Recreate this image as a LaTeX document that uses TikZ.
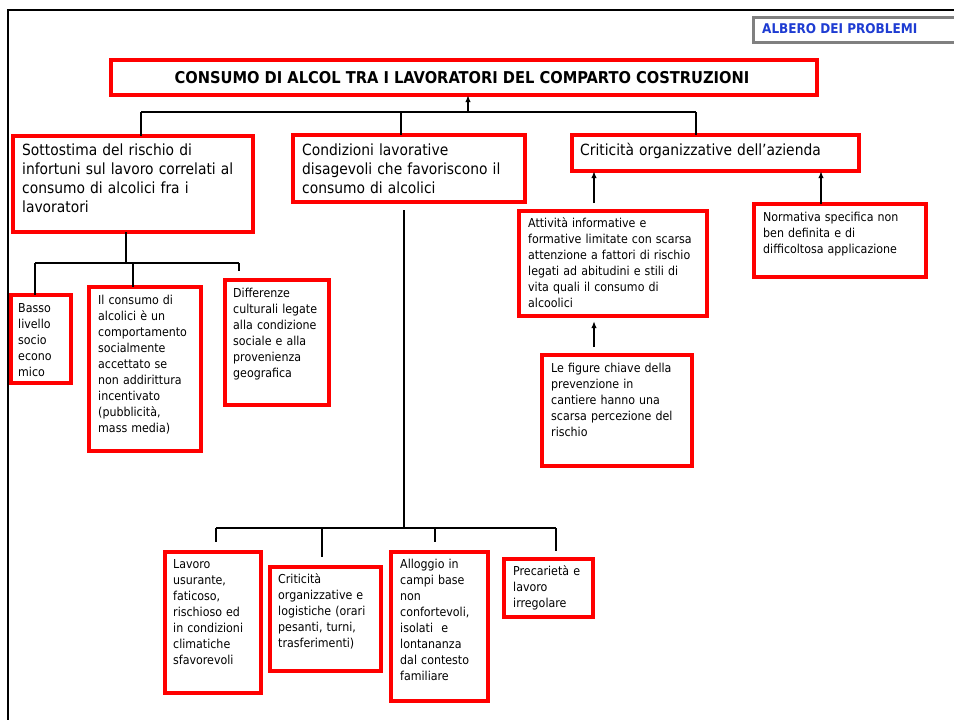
\documentclass[tikz,border=0pt]{standalone}
\usepackage{fontspec}
\setmainfont{DejaVu Sans Condensed}
\usetikzlibrary{fit,arrows.meta}
\definecolor{boxred}{RGB}{255,0,0}
\definecolor{albblue}{RGB}{30,60,210}
\definecolor{albgray}{RGB}{128,128,128}
\newcommand\rbox[5]{\node[rbox, fit={(#2+1.8,#3+1.8) (#4-1.8,#5-1.8)}] (#1) {};}
\begin{document}
\begin{tikzpicture}[x=1pt,y=-1pt,
  rbox/.style={draw=boxred, line width=3.6pt, inner sep=0pt, outer sep=0pt},
  bigtxt/.style={anchor=base west, inner sep=0pt, align=left, text width=400pt, font=\fontsize{15.4}{19.3}\selectfont},
  smalltxt/.style={anchor=base west, inner sep=0pt, align=left, text width=400pt, font=\fontsize{12.3}{16}\selectfont},
  tree/.style={draw=black, line width=2pt},
  arr/.style={draw=black, line width=1.3pt, -{Latex[length=7pt,width=5.5pt]}}
]
\useasboundingbox (0,0) rectangle (954,720);
\fill[white] (0,0) rectangle (954,720);

% outer frame
\coordinate (fb) at (7.5,720);
\coordinate (fc) at (7.5,10);
\coordinate (fr) at (954,10);
\draw[line width=2pt] (fb) -- (fc) -- (fr);

% label box
\node[draw=albgray, line width=3pt, inner sep=0pt, fit={(753.5,17) (965,42)}] (alb) {};
\node[anchor=base west, inner sep=0pt, text=albblue, font=\fontsize{13.4}{16}\selectfont\bfseries] (albt) at (762,33) {ALBERO DEI PROBLEMI};

% boxes
\rbox{main}{109}{58}{819}{97}
\node[anchor=base, inner sep=0pt, font=\fontsize{16.3}{19}\selectfont\bfseries] (maint) at (462,83) {CONSUMO DI ALCOL TRA I LAVORATORI DEL COMPARTO COSTRUZIONI};

\rbox{sot}{11}{134}{255}{234}
\node[bigtxt] (sott) at (22,155) {Sottostima del rischio di\\infortuni sul lavoro correlati al\\consumo di alcolici fra i\\lavoratori};
\rbox{cond}{291}{133}{527}{204}
\node[bigtxt] (condt) at (302,155) {Condizioni lavorative\\disagevoli che favoriscono il\\consumo di alcolici};
\rbox{crit}{570}{133}{861}{173}
\node[bigtxt] (critt) at (580,155) {Criticità organizzative dell’azienda};

\rbox{basso}{9}{293}{73}{385}
\node[smalltxt] (bassot) at (18,312) {Basso\\livello\\socio\\econo\\mico};
\rbox{cons}{87}{285}{203}{453}
\node[smalltxt] (const) at (98,304) {Il consumo di\\alcolici è un\\comportamento\\socialmente\\accettato se\\non addirittura\\incentivato\\(pubblicità,\\mass media)};
\rbox{diff}{223}{278}{331}{407}
\node[smalltxt] (difft) at (233,297) {Differenze\\culturali legate\\alla condizione\\sociale e alla\\provenienza\\geografica};

\rbox{att}{517}{209}{709}{318}
\node[smalltxt] (attt) at (528,227) {Attività informative e\\formative limitate con scarsa\\attenzione a fattori di rischio\\legati ad abitudini e stili di\\vita quali il consumo di\\alcoolici};
\rbox{norm}{752}{202}{928}{279}
\node[smalltxt] (normt) at (763,221) {Normativa specifica non\\ben definita e di\\difficoltosa applicazione};
\rbox{fig}{540}{353}{694}{468}
\node[smalltxt] (figt) at (551,372) {Le figure chiave della\\prevenzione in\\cantiere hanno una\\scarsa percezione del\\rischio};

\rbox{lav}{163}{550}{263}{695}
\node[smalltxt] (lavt) at (173,568) {Lavoro\\usurante,\\faticoso,\\rischioso ed\\in condizioni\\climatiche\\sfavorevoli};
\rbox{crl}{268}{565}{383}{673}
\node[smalltxt] (crlt) at (278,583) {Criticità\\organizzative e\\logistiche (orari\\pesanti, turni,\\trasferimenti)};
\rbox{allo}{389}{550}{490}{703}
\node[smalltxt] (allot) at (400,568) {Alloggio in\\campi base\\non\\confortevoli,\\isolati~ e\\lontananza\\dal contesto\\familiare};
\rbox{prec}{502}{557}{595}{619}
\node[smalltxt] (prect) at (513,575) {Precarietà e\\lavoro\\irregolare};

% top level tree
\coordinate (tA) at (468,112);
\coordinate (tL) at (141,112);
\coordinate (tM) at (401,112);
\coordinate (tR) at (696,112);
\draw[tree] (tL) -- (tR);
\draw[tree] (tL) -- (sot.north -| tL);
\draw[tree] (tM) -- (cond.north -| tM);
\draw[tree] (tR) -- (crit.north -| tR);
\draw[arr] (tA) -- (main.south -| tA);

% Sottostima subtree
\coordinate (s0) at (126,263);
\coordinate (s1) at (35,263);
\coordinate (s2) at (133,263);
\coordinate (s3) at (239,263);
\coordinate (s3e) at (239,271);
\draw[tree] (sot.south -| s0) -- (s0);
\draw[tree] (s1) -- (s3);
\draw[tree] (s1) -- (basso.north -| s1);
\draw[tree] (s2) -- (cons.north -| s2);
\draw[tree] (s3) -- (s3e);

% Condizioni subtree
\coordinate (c0t) at (404,210);
\coordinate (c0) at (404,528);
\coordinate (c1) at (216,528);
\coordinate (c2) at (322,528);
\coordinate (c3) at (435,528);
\coordinate (c4) at (556,528);
\coordinate (c1e) at (216,542);
\coordinate (c2e) at (322,557);
\coordinate (c3e) at (435,542);
\coordinate (c4e) at (556,551);
\draw[tree] (c0t) -- (c0);
\draw[tree] (c1) -- (c4);
\draw[tree] (c1) -- (c1e);
\draw[tree] (c2) -- (c2e);
\draw[tree] (c3) -- (c3e);
\draw[tree] (c4) -- (c4e);

% right arrows
\coordinate (a1) at (594,203);
\coordinate (a2) at (821,203);
\coordinate (a3) at (594,347);
\draw[arr] (a1) -- (crit.south -| a1);
\draw[arr] (norm.north -| a2) -- (crit.south -| a2);
\draw[arr, shorten >=5pt] (a3) -- (att.south -| a3);
\end{tikzpicture}
\end{document}
